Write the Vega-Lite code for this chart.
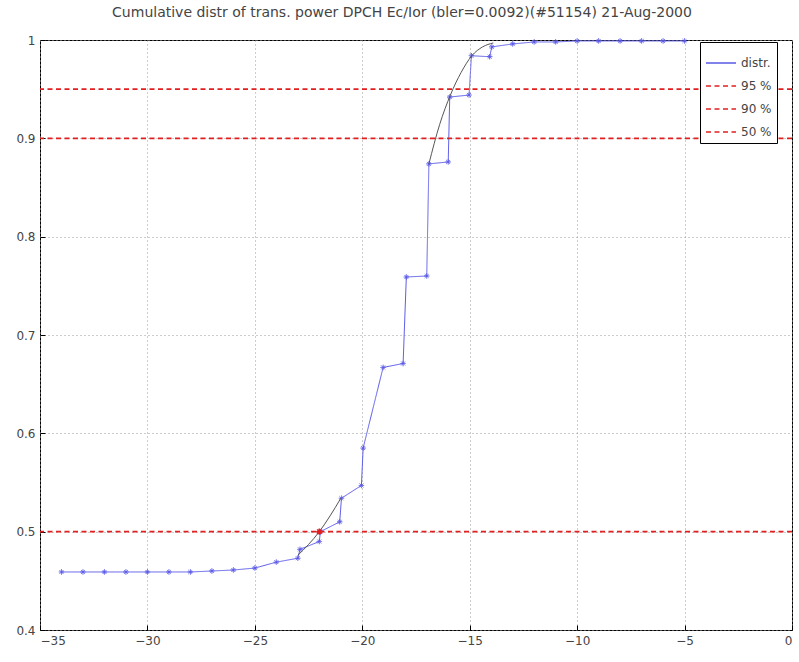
{
  "$schema": "https://vega.github.io/schema/vega-lite/v6.json",
  "width": 752,
  "height": 590,
  "autosize": "none",
  "padding": {"left": 40, "top": 40, "right": 7, "bottom": 32},
  "title": {
    "text": "Cumulative distr of trans. power DPCH Ec/Ior (bler=0.0092)(#51154) 21-Aug-2000",
    "font": "DejaVu Sans",
    "fontSize": 14,
    "fontWeight": "normal",
    "color": "#444444",
    "offset": 14,
    "dx": -14
  },
  "datasets": {
    "distr": [
      {"x": -34, "y": 0.459}, {"x": -33, "y": 0.459}, {"x": -32, "y": 0.459}, {"x": -31, "y": 0.459},
      {"x": -30, "y": 0.459}, {"x": -29, "y": 0.459}, {"x": -28, "y": 0.459}, {"x": -27, "y": 0.46},
      {"x": -26, "y": 0.461}, {"x": -25, "y": 0.463}, {"x": -24, "y": 0.469}, {"x": -23, "y": 0.473},
      {"x": -22.9, "y": 0.482}, {"x": -22, "y": 0.49}, {"x": -21.95, "y": 0.5}, {"x": -21.05, "y": 0.51},
      {"x": -20.97, "y": 0.534}, {"x": -20.04, "y": 0.547}, {"x": -19.96, "y": 0.585}, {"x": -19.03, "y": 0.667},
      {"x": -18.1, "y": 0.671}, {"x": -17.95, "y": 0.759}, {"x": -17.0, "y": 0.76}, {"x": -16.9, "y": 0.874},
      {"x": -16.0, "y": 0.876}, {"x": -15.93, "y": 0.942}, {"x": -15.03, "y": 0.944}, {"x": -14.92, "y": 0.984},
      {"x": -14.07, "y": 0.983}, {"x": -13.97, "y": 0.993}, {"x": -13, "y": 0.996}, {"x": -12, "y": 0.998},
      {"x": -11, "y": 0.998}, {"x": -10, "y": 0.999}, {"x": -9, "y": 0.999}, {"x": -8, "y": 0.999},
      {"x": -7, "y": 0.999}, {"x": -6, "y": 0.999}, {"x": -5, "y": 0.999}
    ],
    "fitA": [
      {"x": -23.0, "y": 0.476}, {"x": -22.5, "y": 0.487}, {"x": -22.0, "y": 0.5}, {"x": -21.5, "y": 0.516}, {"x": -21.0, "y": 0.534}
    ],
    "fitB": [
      {"x": -16.9, "y": 0.874}, {"x": -16.4, "y": 0.914}, {"x": -15.9, "y": 0.944}, {"x": -15.4, "y": 0.967},
      {"x": -14.9, "y": 0.984}, {"x": -14.4, "y": 0.993}, {"x": -13.9, "y": 0.997}
    ],
    "levels": [
      {"level": 0.95, "series": "95 %"},
      {"level": 0.9, "series": "90 %"},
      {"level": 0.5, "series": "50 %"}
    ],
    "cross50": [{"x": -22, "y": 0.5}]
  },
  "layer": [
    {
      "data": {"name": "distr"},
      "transform": [{"calculate": "'distr.'", "as": "series"}],
      "mark": {
        "type": "line",
        "strokeWidth": 1,
        "point": {"shape": "M-1,0L1,0M0,-1L0,1M-0.7,-0.7L0.7,0.7M-0.7,0.7L0.7,-0.7", "filled": false, "size": 30, "strokeWidth": 1, "color": "#5a5ae8"}
      },
      "encoding": {
        "x": {
          "field": "x", "type": "quantitative", "sort": null,
          "scale": {"domain": [-35, 0], "nice": false, "zero": false},
          "axis": {"title": null, "values": [-35, -30, -25, -20, -15, -10, -5, 0]}
        },
        "y": {
          "field": "y", "type": "quantitative",
          "scale": {"domain": [0.4, 1], "nice": false, "zero": false},
          "axis": {"title": null, "values": [0.4, 0.5, 0.6, 0.7, 0.8, 0.9, 1], "format": "~g"}
        },
        "order": {"value": null},
        "color": {
          "field": "series", "type": "nominal",
          "scale": {"domain": ["distr.", "95 %", "90 %", "50 %"], "range": ["#5a5ae8", "#e02020", "#e02020", "#e02020"]},
          "legend": {"title": null, "orient": "none", "legendX": 660, "legendY": 2}
        },
        "strokeDash": {
          "field": "series", "type": "nominal",
          "scale": {"domain": ["distr.", "95 %", "90 %", "50 %"], "range": [[1, 0], [5, 3.5], [5, 3.5], [5, 3.5]]},
          "legend": {"title": null, "orient": "none", "legendX": 660, "legendY": 2}
        }
      }
    },
    {
      "data": {"name": "levels"},
      "mark": {"type": "rule", "strokeWidth": 1.6},
      "encoding": {
        "y": {"field": "level", "type": "quantitative"},
        "color": {"field": "series", "type": "nominal"},
        "strokeDash": {"field": "series", "type": "nominal"}
      }
    },
    {
      "data": {"name": "fitA"},
      "mark": {"type": "line", "color": "#555555", "strokeWidth": 1, "interpolate": "monotone"},
      "encoding": {
        "x": {"field": "x", "type": "quantitative"},
        "y": {"field": "y", "type": "quantitative"}
      }
    },
    {
      "data": {"name": "fitB"},
      "mark": {"type": "line", "color": "#555555", "strokeWidth": 1, "interpolate": "monotone"},
      "encoding": {
        "x": {"field": "x", "type": "quantitative"},
        "y": {"field": "y", "type": "quantitative"}
      }
    },
    {
      "data": {"name": "cross50"},
      "mark": {"type": "point", "shape": "M-1,0L1,0M0,-1L0,1M-0.7,-0.7L0.7,0.7M-0.7,0.7L0.7,-0.7", "filled": false, "size": 40, "strokeWidth": 1.5, "color": "#e02020", "opacity": 1},
      "encoding": {
        "x": {"field": "x", "type": "quantitative"},
        "y": {"field": "y", "type": "quantitative"}
      }
    }
  ],
  "config": {
    "view": {"stroke": "#000000", "strokeWidth": 1},
    "axis": {
      "labelFont": "DejaVu Sans",
      "labelFontSize": 12,
      "labelColor": "#444444",
      "domain": false,
      "tickColor": "#000000",
      "tickSize": -5,
      "labelPadding": 10,
      "grid": true,
      "gridColor": "#9a9a9a",
      "gridDash": [1, 3],
      "gridWidth": 1
    },
    "axisX": {"labelPadding": 10},
    "axisY": {"labelPadding": 10},
    "legend": {
      "fillColor": "#ffffff",
      "strokeColor": "#000000",
      "padding": 5,
      "symbolType": "stroke",
      "symbolSize": 900,
      "symbolStrokeWidth": 1.5,
      "labelFont": "DejaVu Sans",
      "labelFontSize": 12,
      "labelColor": "#444444",
      "rowPadding": 1
    }
  }
}
